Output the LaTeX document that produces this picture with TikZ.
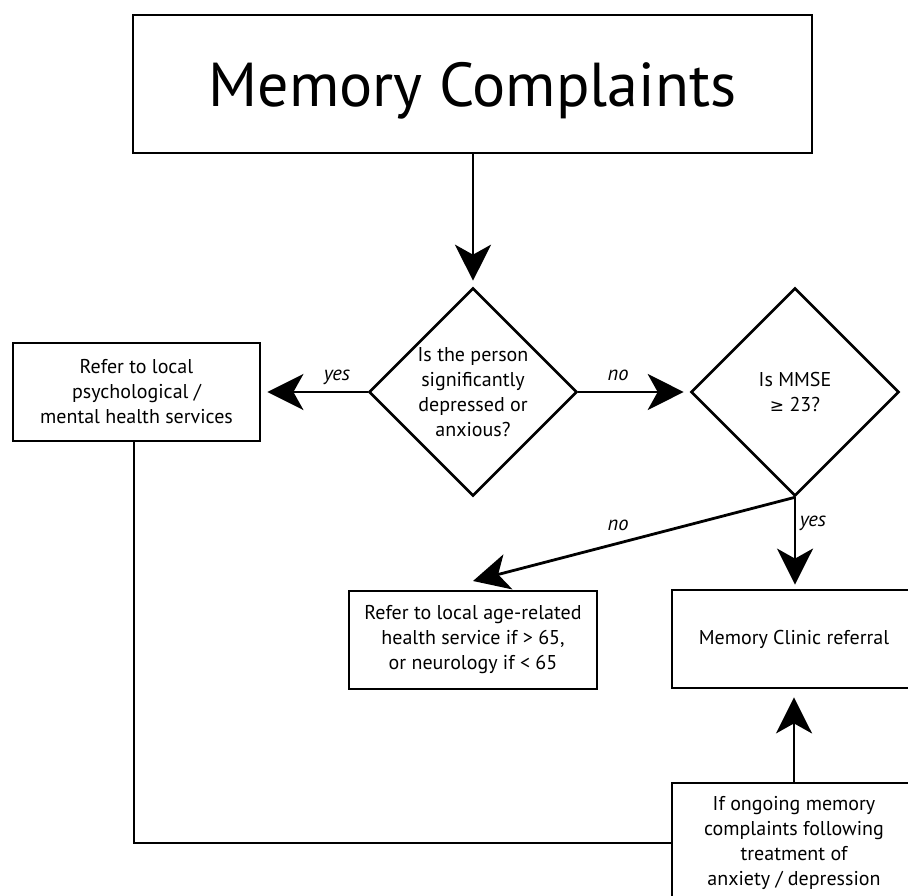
\documentclass[tikz,border=0pt]{standalone}
\usepackage{fontspec}
\setmainfont{PT Sans}
\newfontfamily\symfont[Scale=0.85]{DejaVu Sans}
\usetikzlibrary{shapes.geometric,arrows.meta}
\begin{document}
\begin{tikzpicture}[x=1pt,y=-1pt,
  box/.style={draw, line width=2.8pt, inner sep=0pt, align=center, font=\fontsize{20}{25}\selectfont},
  dia/.style={draw, diamond, line width=2.6pt, minimum width=208pt, minimum height=208pt, inner sep=0pt},
  txt/.style={align=center, font=\fontsize{20}{25}\selectfont, inner sep=0pt},
  lbl/.style={font=\fontsize{20.5}{24}\selectfont\itshape, inner sep=0pt},
  arr/.style={line width=2.8pt, -{Stealth[length=36pt,width=36pt,inset=10pt]}},
  conn/.style={line width=2.8pt}]
\useasboundingbox (0,0) rectangle (908,896);
\clip (0,0) rectangle (908,896);

\node[box, minimum width=679pt, minimum height=138pt, font=\fontsize{62}{72}\selectfont, text depth=0pt] (title) at (472.5,84) {Memory Complaints};

\node[dia, label={[txt]center:{Is the person\\significantly\\depressed or\\anxious?}}] (d1) at (473,392) {};
\node[dia, label={[txt]center:{Is MMSE\\{\symfont ≥} 23?}}] (d2) at (795,392) {};

\node[box, minimum width=247pt, minimum height=98pt] (lbox) at (136.5,392) {Refer to local\\psychological /\\mental health services};
\node[box, minimum width=248pt, minimum height=98pt] (age) at (473,640) {Refer to local age-related\\health service if > 65,\\or neurology if < 65};
\node[box, minimum width=244pt, minimum height=98pt] (clinic) at (794,639) {Memory Clinic referral};
\node[box, minimum width=244pt, minimum height=120pt] (bot) at (794,843) {If ongoing memory\\complaints following\\treatment of\\anxiety / depression};

\coordinate (agetip) at (473,581);

\node[lbl] (lyes1) at (337,377) {yes};
\node[lbl] (lno1) at (618,375) {no};
\node[lbl] (lno2) at (618,525) {no};
\node[lbl] (lyes2) at (813,523) {yes};

\draw[arr, shorten >=6pt] (d1.north |- title.south) -- (d1.north);
\draw[arr, shorten >=6pt] (d1.west) -- (lbox.east);
\draw[arr, shorten >=6pt] (d1.east) -- (d2.west);
\draw[arr, shorten >=4pt] (d2.south) -- (d2.south |- clinic.north);
\draw[arr] (d2.south) -- (agetip);
\draw[arr, shorten >=8pt] (bot.north) -- (clinic.south);
\draw[conn] ([xshift=-2.5pt]lbox.south) |- (bot.west);
\end{tikzpicture}
\end{document}
